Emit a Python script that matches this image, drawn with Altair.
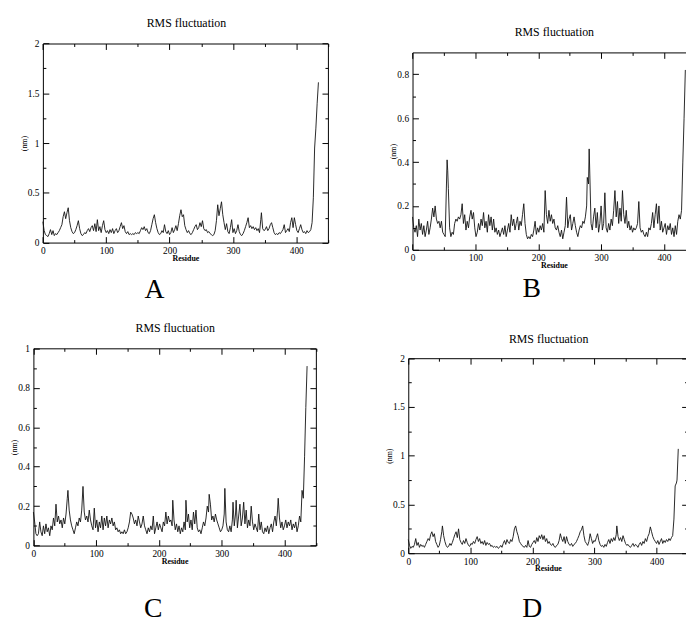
import altair as alt
import pandas as pd

TITLE = "RMS fluctuation"
X_TITLE = "Residue"
Y_TITLE = "(nm)"
FONT = "Liberation Serif"

# ---- data: (residue, RMSF in nm) ----
points_a = [
    (0, 0.21), (2, 0.12), (4, 0.08), (6, 0.07), (8, 0.06), (10, 0.09), (12, 0.13), (14, 0.08), (16, 0.12), (18, 0.07),
    (20, 0.09), (22, 0.08), (24, 0.10), (26, 0.12), (28, 0.15), (30, 0.18), (32, 0.26), (34, 0.31), (36, 0.24), (38, 0.30),
    (40, 0.35), (42, 0.22), (44, 0.15), (46, 0.11), (48, 0.09), (50, 0.10), (52, 0.13), (54, 0.17), (56, 0.22), (58, 0.14),
    (60, 0.09), (62, 0.07), (64, 0.08), (66, 0.10), (68, 0.09), (70, 0.12), (72, 0.14), (74, 0.11), (76, 0.15), (78, 0.17),
    (80, 0.12), (82, 0.19), (84, 0.11), (86, 0.23), (88, 0.12), (90, 0.16), (92, 0.10), (94, 0.17), (96, 0.22), (98, 0.13),
    (100, 0.10), (102, 0.12), (104, 0.09), (106, 0.13), (108, 0.10), (110, 0.14), (112, 0.09), (114, 0.12), (116, 0.14),
    (118, 0.10), (120, 0.12), (122, 0.16), (124, 0.20), (126, 0.14), (128, 0.17), (130, 0.11), (132, 0.09), (134, 0.11),
    (136, 0.08), (138, 0.09), (140, 0.08), (142, 0.09), (144, 0.08), (146, 0.10), (148, 0.09), (150, 0.10), (152, 0.09),
    (154, 0.12), (156, 0.15), (158, 0.13), (160, 0.16), (162, 0.12), (164, 0.14), (166, 0.10), (168, 0.09), (170, 0.12),
    (172, 0.18), (174, 0.24), (176, 0.28), (178, 0.20), (180, 0.14), (182, 0.10), (184, 0.08), (186, 0.09), (188, 0.12),
    (190, 0.10), (192, 0.18), (194, 0.11), (196, 0.09), (198, 0.12), (200, 0.08), (202, 0.10), (204, 0.15), (206, 0.10),
    (208, 0.13), (210, 0.17), (212, 0.12), (214, 0.19), (216, 0.27), (218, 0.33), (220, 0.26), (222, 0.28), (224, 0.17),
    (226, 0.13), (228, 0.10), (230, 0.12), (232, 0.09), (234, 0.08), (236, 0.10), (238, 0.13), (240, 0.16), (242, 0.18),
    (244, 0.13), (246, 0.15), (248, 0.20), (250, 0.16), (252, 0.22), (254, 0.14), (256, 0.12), (258, 0.13), (260, 0.10),
    (262, 0.11), (264, 0.09), (266, 0.08), (268, 0.07), (270, 0.08), (272, 0.12), (274, 0.22), (276, 0.38), (278, 0.27),
    (280, 0.34), (282, 0.41), (284, 0.28), (286, 0.20), (288, 0.13), (290, 0.19), (292, 0.11), (294, 0.09), (296, 0.15),
    (298, 0.23), (300, 0.10), (302, 0.14), (304, 0.09), (306, 0.12), (308, 0.18), (310, 0.11), (312, 0.08), (314, 0.07),
    (316, 0.09), (318, 0.12), (320, 0.16), (322, 0.20), (324, 0.25), (326, 0.15), (328, 0.17), (330, 0.14), (332, 0.16),
    (334, 0.13), (336, 0.15), (338, 0.12), (340, 0.14), (342, 0.10), (344, 0.23), (345, 0.30), (347, 0.14), (349, 0.12),
    (351, 0.13), (353, 0.16), (355, 0.12), (357, 0.14), (359, 0.18), (361, 0.20), (363, 0.15), (365, 0.10), (367, 0.08),
    (369, 0.09), (371, 0.08), (373, 0.10), (375, 0.09), (377, 0.11), (379, 0.13), (381, 0.18), (383, 0.10), (385, 0.12),
    (387, 0.14), (389, 0.11), (391, 0.20), (393, 0.25), (395, 0.15), (397, 0.25), (399, 0.18), (401, 0.12), (403, 0.10),
    (405, 0.14), (407, 0.18), (409, 0.13), (411, 0.10), (413, 0.11), (415, 0.09), (417, 0.12), (419, 0.10), (421, 0.11),
    (423, 0.13), (425, 0.20), (427, 0.45), (429, 0.95), (431, 1.15), (433, 1.40), (435, 1.61),
]

points_b = [
    (0, 0.15), (2, 0.10), (4, 0.08), (6, 0.11), (8, 0.06), (10, 0.14), (12, 0.09), (14, 0.12), (16, 0.07), (18, 0.11),
    (20, 0.06), (22, 0.09), (24, 0.13), (26, 0.07), (28, 0.10), (30, 0.14), (32, 0.19), (34, 0.15), (36, 0.20), (38, 0.14),
    (40, 0.12), (42, 0.13), (44, 0.10), (46, 0.13), (48, 0.08), (50, 0.07), (52, 0.06), (54, 0.30), (55, 0.41), (56, 0.36),
    (57, 0.28), (59, 0.10), (61, 0.06), (63, 0.08), (65, 0.07), (67, 0.12), (69, 0.14), (71, 0.13), (73, 0.15), (75, 0.14),
    (77, 0.16), (79, 0.21), (81, 0.12), (83, 0.16), (85, 0.09), (87, 0.13), (89, 0.10), (91, 0.15), (93, 0.18), (95, 0.14),
    (97, 0.17), (99, 0.10), (101, 0.06), (103, 0.08), (105, 0.12), (107, 0.09), (109, 0.14), (111, 0.11), (113, 0.17),
    (115, 0.10), (117, 0.13), (119, 0.08), (121, 0.16), (123, 0.11), (125, 0.15), (127, 0.09), (129, 0.14), (131, 0.08),
    (133, 0.10), (135, 0.07), (137, 0.09), (139, 0.06), (141, 0.08), (143, 0.10), (145, 0.07), (147, 0.11), (149, 0.06),
    (151, 0.09), (153, 0.12), (155, 0.08), (157, 0.16), (159, 0.11), (161, 0.14), (163, 0.09), (165, 0.12), (167, 0.15),
    (169, 0.09), (171, 0.13), (173, 0.11), (175, 0.16), (177, 0.21), (179, 0.12), (181, 0.07), (183, 0.05), (185, 0.06),
    (187, 0.05), (189, 0.07), (191, 0.06), (193, 0.09), (195, 0.13), (197, 0.07), (199, 0.10), (201, 0.08), (203, 0.11),
    (205, 0.09), (207, 0.12), (209, 0.08), (211, 0.27), (213, 0.16), (215, 0.12), (217, 0.18), (219, 0.13), (221, 0.16),
    (223, 0.12), (225, 0.14), (227, 0.10), (229, 0.09), (231, 0.11), (233, 0.08), (235, 0.06), (237, 0.09), (239, 0.05),
    (241, 0.08), (243, 0.11), (245, 0.24), (247, 0.10), (249, 0.14), (251, 0.16), (253, 0.09), (255, 0.12), (257, 0.15),
    (259, 0.11), (261, 0.08), (263, 0.06), (265, 0.09), (267, 0.11), (269, 0.10), (271, 0.13), (273, 0.12), (275, 0.15),
    (277, 0.20), (278, 0.33), (280, 0.30), (281, 0.46), (282, 0.35), (284, 0.12), (286, 0.09), (288, 0.15), (290, 0.19),
    (292, 0.10), (294, 0.17), (296, 0.08), (298, 0.12), (300, 0.20), (302, 0.09), (304, 0.12), (306, 0.26), (308, 0.10),
    (310, 0.08), (312, 0.12), (314, 0.09), (316, 0.14), (318, 0.11), (320, 0.18), (322, 0.27), (324, 0.15), (326, 0.22),
    (328, 0.12), (330, 0.19), (332, 0.13), (334, 0.27), (336, 0.16), (338, 0.12), (340, 0.18), (342, 0.10), (344, 0.13),
    (346, 0.09), (348, 0.11), (350, 0.08), (352, 0.10), (354, 0.09), (356, 0.10), (358, 0.12), (360, 0.22), (362, 0.10),
    (364, 0.08), (366, 0.09), (368, 0.07), (370, 0.06), (372, 0.08), (374, 0.06), (376, 0.10), (378, 0.09), (380, 0.12),
    (382, 0.17), (384, 0.10), (386, 0.16), (388, 0.21), (390, 0.12), (392, 0.20), (394, 0.09), (396, 0.13), (398, 0.08),
    (400, 0.10), (402, 0.12), (404, 0.07), (406, 0.11), (408, 0.09), (410, 0.12), (412, 0.07), (414, 0.10), (416, 0.06),
    (418, 0.11), (420, 0.07), (422, 0.13), (424, 0.16), (426, 0.14), (428, 0.18), (430, 0.40), (432, 0.60), (434, 0.82),
]

points_c = [
    (0, 0.17), (2, 0.12), (4, 0.06), (6, 0.05), (8, 0.06), (10, 0.12), (12, 0.07), (14, 0.05), (16, 0.10), (18, 0.06),
    (20, 0.11), (22, 0.07), (24, 0.09), (26, 0.05), (28, 0.10), (30, 0.08), (32, 0.14), (34, 0.10), (36, 0.21), (38, 0.12),
    (40, 0.15), (42, 0.11), (44, 0.13), (46, 0.09), (48, 0.14), (50, 0.11), (52, 0.16), (54, 0.24), (55, 0.28), (57, 0.18),
    (59, 0.13), (61, 0.10), (63, 0.08), (65, 0.06), (67, 0.09), (69, 0.12), (71, 0.10), (73, 0.14), (75, 0.12), (77, 0.18),
    (79, 0.30), (81, 0.17), (83, 0.13), (85, 0.15), (87, 0.12), (89, 0.18), (91, 0.13), (93, 0.10), (95, 0.08), (97, 0.19),
    (99, 0.09), (101, 0.13), (103, 0.07), (105, 0.12), (107, 0.09), (109, 0.15), (111, 0.08), (113, 0.14), (115, 0.10),
    (117, 0.15), (119, 0.09), (121, 0.13), (123, 0.11), (125, 0.14), (127, 0.10), (129, 0.12), (131, 0.08), (133, 0.09),
    (135, 0.07), (137, 0.08), (139, 0.06), (141, 0.07), (143, 0.06), (145, 0.08), (147, 0.06), (149, 0.07), (151, 0.09),
    (153, 0.12), (155, 0.17), (157, 0.16), (159, 0.14), (161, 0.11), (163, 0.13), (165, 0.10), (167, 0.15), (169, 0.12),
    (171, 0.09), (173, 0.11), (175, 0.15), (177, 0.10), (179, 0.08), (181, 0.06), (183, 0.09), (185, 0.07), (187, 0.10),
    (189, 0.08), (191, 0.15), (193, 0.06), (195, 0.09), (197, 0.12), (199, 0.08), (201, 0.11), (203, 0.09), (205, 0.07),
    (207, 0.12), (209, 0.10), (211, 0.17), (213, 0.11), (215, 0.15), (217, 0.12), (219, 0.13), (221, 0.10), (222, 0.23),
    (224, 0.13), (226, 0.08), (228, 0.11), (230, 0.07), (232, 0.10), (234, 0.06), (236, 0.09), (238, 0.07), (240, 0.12),
    (242, 0.08), (243, 0.23), (245, 0.12), (247, 0.16), (249, 0.09), (251, 0.13), (253, 0.08), (255, 0.17), (257, 0.11),
    (259, 0.18), (261, 0.09), (263, 0.07), (265, 0.08), (267, 0.06), (269, 0.09), (271, 0.12), (273, 0.10), (275, 0.14),
    (277, 0.20), (279, 0.17), (280, 0.26), (282, 0.21), (284, 0.13), (286, 0.15), (288, 0.12), (290, 0.16), (292, 0.13),
    (294, 0.11), (296, 0.09), (298, 0.07), (300, 0.08), (302, 0.10), (304, 0.16), (305, 0.29), (307, 0.12), (309, 0.08),
    (311, 0.07), (313, 0.10), (315, 0.07), (317, 0.13), (318, 0.22), (320, 0.10), (322, 0.16), (323, 0.23), (325, 0.09),
    (327, 0.15), (329, 0.21), (331, 0.10), (333, 0.14), (335, 0.22), (337, 0.11), (339, 0.18), (341, 0.09), (343, 0.13),
    (345, 0.10), (347, 0.20), (349, 0.12), (351, 0.08), (353, 0.11), (355, 0.09), (357, 0.07), (359, 0.16), (361, 0.08),
    (363, 0.12), (365, 0.07), (367, 0.06), (369, 0.09), (371, 0.07), (373, 0.10), (375, 0.06), (377, 0.09), (379, 0.11),
    (381, 0.07), (383, 0.12), (385, 0.15), (387, 0.10), (389, 0.18), (390, 0.24), (392, 0.14), (394, 0.09), (396, 0.12),
    (398, 0.08), (400, 0.10), (402, 0.13), (404, 0.09), (406, 0.12), (408, 0.10), (410, 0.13), (412, 0.08), (414, 0.11),
    (416, 0.09), (418, 0.12), (420, 0.07), (422, 0.10), (424, 0.15), (426, 0.12), (428, 0.28), (430, 0.24), (432, 0.45),
    (434, 0.70), (436, 0.91),
]

points_d = [
    (0, 0.14), (2, 0.08), (4, 0.05), (6, 0.07), (8, 0.06), (10, 0.09), (12, 0.15), (14, 0.08), (16, 0.11), (18, 0.06),
    (20, 0.09), (22, 0.07), (24, 0.08), (26, 0.06), (28, 0.09), (30, 0.12), (32, 0.15), (34, 0.13), (36, 0.19), (38, 0.22),
    (40, 0.17), (42, 0.20), (44, 0.12), (46, 0.09), (48, 0.06), (50, 0.08), (52, 0.14), (54, 0.22), (55, 0.28), (57, 0.18),
    (59, 0.12), (61, 0.08), (63, 0.06), (65, 0.07), (67, 0.10), (69, 0.08), (71, 0.11), (73, 0.15), (75, 0.19), (77, 0.22),
    (79, 0.16), (81, 0.25), (83, 0.14), (85, 0.11), (87, 0.09), (89, 0.13), (91, 0.10), (93, 0.15), (95, 0.11), (97, 0.08),
    (99, 0.07), (101, 0.10), (103, 0.09), (105, 0.12), (107, 0.10), (109, 0.14), (111, 0.17), (113, 0.12), (115, 0.15),
    (117, 0.10), (119, 0.12), (121, 0.09), (123, 0.13), (125, 0.08), (127, 0.11), (129, 0.09), (131, 0.10), (133, 0.07),
    (135, 0.08), (137, 0.06), (139, 0.07), (141, 0.06), (143, 0.07), (145, 0.05), (147, 0.06), (149, 0.08), (151, 0.06),
    (153, 0.10), (155, 0.13), (157, 0.09), (159, 0.14), (161, 0.11), (163, 0.10), (165, 0.14), (167, 0.12), (169, 0.17),
    (171, 0.25), (173, 0.28), (175, 0.22), (177, 0.18), (179, 0.12), (181, 0.10), (183, 0.08), (185, 0.07), (187, 0.06),
    (189, 0.08), (191, 0.06), (193, 0.13), (195, 0.07), (197, 0.06), (199, 0.09), (201, 0.11), (203, 0.13), (205, 0.10),
    (207, 0.16), (209, 0.12), (211, 0.18), (213, 0.15), (215, 0.19), (217, 0.14), (219, 0.18), (221, 0.12), (223, 0.15),
    (225, 0.10), (227, 0.12), (229, 0.09), (231, 0.08), (233, 0.10), (235, 0.07), (237, 0.06), (239, 0.08), (241, 0.09),
    (243, 0.13), (245, 0.20), (247, 0.15), (249, 0.12), (251, 0.17), (253, 0.10), (255, 0.17), (257, 0.12), (259, 0.09),
    (261, 0.08), (263, 0.10), (265, 0.07), (267, 0.09), (269, 0.10), (271, 0.12), (273, 0.15), (275, 0.18), (277, 0.22),
    (279, 0.24), (281, 0.28), (283, 0.18), (285, 0.12), (287, 0.10), (289, 0.08), (291, 0.12), (293, 0.20), (295, 0.15),
    (297, 0.10), (299, 0.13), (301, 0.12), (303, 0.16), (305, 0.20), (307, 0.13), (309, 0.09), (311, 0.07), (313, 0.08),
    (315, 0.06), (317, 0.09), (319, 0.07), (321, 0.11), (323, 0.14), (325, 0.10), (327, 0.15), (329, 0.12), (331, 0.16),
    (333, 0.13), (335, 0.19), (336, 0.28), (338, 0.17), (340, 0.13), (342, 0.16), (344, 0.12), (346, 0.18), (348, 0.14),
    (350, 0.10), (352, 0.08), (354, 0.09), (356, 0.07), (358, 0.06), (360, 0.08), (362, 0.10), (364, 0.07), (366, 0.09),
    (368, 0.08), (370, 0.06), (372, 0.09), (374, 0.11), (376, 0.08), (378, 0.12), (380, 0.10), (382, 0.15), (384, 0.12),
    (386, 0.17), (388, 0.20), (390, 0.27), (392, 0.22), (394, 0.17), (396, 0.14), (398, 0.12), (400, 0.10), (402, 0.13),
    (404, 0.09), (406, 0.12), (408, 0.15), (410, 0.10), (412, 0.13), (414, 0.11), (416, 0.14), (418, 0.12), (420, 0.15),
    (422, 0.13), (424, 0.16), (426, 0.18), (428, 0.35), (430, 0.69), (432, 0.72), (433, 0.75), (435, 1.07),
]

panel_letters = ["A", "B", "C", "D"]
x_major = [0, 100, 200, 300, 400]
x_minor = [50, 150, 250, 350, 450]
y_major_a = [0, 0.5, 1, 1.5, 2]
y_minor_a = [0.25, 0.75, 1.25, 1.75]
y_major_b = [0, 0.2, 0.4, 0.6, 0.8]
y_minor_b = [0.1, 0.3, 0.5, 0.7]
y_major_c = [0, 0.2, 0.4, 0.6, 0.8, 1]
y_minor_c = [0.1, 0.3, 0.5, 0.7, 0.9]

# ---- layout (pixels inside the drawing) ----
W_TOT, H_TOT = 686, 617
X_MAX = 450

panels = [
    dict(points=points_a, letter=panel_letters[0], ymax=2.0, ymaj=y_major_a, ymin=y_minor_a,
         x0=35.3, x1=323.7, yt=32.3, yb=233.7, tx=180.0, ty=15.0, lx=147.8, ly=55.3),
    dict(points=points_b, letter=panel_letters[1], ymax=0.9, ymaj=y_major_b, ymin=y_minor_b,
         x0=409.3, x1=695.5, yt=41.3, yb=241.0, tx=552.3, ty=24.0, lx=529.3, ly=47.7),
    dict(points=points_c, letter=panel_letters[2], ymax=1.0, ymaj=y_major_c, ymin=y_minor_c,
         x0=25.7, x1=311.5, yt=340.7, yb=540.3, tx=168.7, ty=323.7, lx=146.5, ly=71.7),
    dict(points=points_d, letter=panel_letters[3], ymax=2.0, ymaj=y_major_a, ymin=y_minor_a,
         x0=405.0, x1=687.6, yt=350.7, yb=548.0, tx=546.5, ty=335.3, lx=529.8, ly=64.0),
]

INK = "black"


def tick_axis(orient, offset, values, size, domain=False):
    return alt.Axis(orient=orient, offset=offset, values=values, labels=False, ticks=True,
                    tickSize=size, tickColor=INK, tickWidth=1, domain=domain, domainColor=INK,
                    domainWidth=1, grid=False, title=None)


def blank_axis(orient, offset, title, tx, ty, size, angle):
    return alt.Axis(orient=orient, offset=offset, labels=False, ticks=False, domain=False, grid=False,
                    title=title, titleX=tx, titleY=ty, titleFont=FONT, titleFontSize=size,
                    titleFontWeight="normal", titleColor=INK, titleAngle=angle, titleAlign="center",
                    titleBaseline="alphabetic")


layers = []
for p in panels:
    df = pd.DataFrame(p["points"], columns=["res", "rmsf"])
    sx = alt.Scale(domain=[0, X_MAX], range=[p["x0"], p["x1"]], nice=False, zero=False)
    sy = alt.Scale(domain=[0, p["ymax"]], range=[p["yb"], p["yt"]], nice=False, zero=False)
    base = alt.Chart(df)

    def enc(mark, ax, ay):
        return mark.encode(
            x=alt.X("res:Q", scale=sx, axis=ax),
            y=alt.Y("rmsf:Q", scale=sy, axis=ay),
        )

    x_lab = alt.Axis(orient="bottom", offset=p["yb"] - H_TOT, values=x_major, format="d",
                     labelFont=FONT, labelFontSize=9.5, labelColor=INK, labelPadding=3,
                     labelFlush=False, labelOverlap=False, ticks=False, tickSize=0,
                     domain=True, domainColor=INK, domainWidth=1, grid=False,
                     title=X_TITLE, titleFont=FONT, titleFontSize=8, titleFontWeight="bold",
                     titleColor=INK, titleX=(p["x0"] + p["x1"]) / 2, titleY=18,
                     titleBaseline="alphabetic", titleAlign="center")
    y_lab = alt.Axis(orient="left", offset=-p["x0"], values=p["ymaj"], format="~g",
                     labelFont=FONT, labelFontSize=9.5, labelColor=INK, labelPadding=4,
                     labelFlush=False, labelOverlap=False, ticks=False, tickSize=0,
                     domain=True, domainColor=INK, domainWidth=1, grid=False,
                     title=Y_TITLE, titleFont=FONT, titleFontSize=8, titleFontWeight="normal",
                     titleColor=INK, titleX=-19, titleY=(p["yt"] + p["yb"]) / 2,
                     titleBaseline="middle", titleAlign="center")

    line = base.mark_line(color="#111111", strokeWidth=0.9)
    ghost = base.mark_point(opacity=0)

    layers += [
        enc(line, x_lab, y_lab),
        enc(ghost, tick_axis("bottom", p["yt"] - H_TOT, x_major, 6, domain=True),
            tick_axis("left", -p["x1"], p["ymaj"], 6, domain=True)),
        enc(ghost, tick_axis("bottom", p["yt"] - H_TOT, x_minor, 3),
            tick_axis("left", -p["x1"], p["ymin"], 3)),
        enc(ghost, tick_axis("top", -p["yb"], x_major, 6),
            tick_axis("right", p["x0"] - W_TOT, p["ymaj"], 6)),
        enc(ghost, tick_axis("top", -p["yb"], x_minor, 3),
            tick_axis("right", p["x0"] - W_TOT, p["ymin"], 3)),
        enc(ghost, blank_axis("bottom", p["yb"] - H_TOT, p["letter"], p["lx"], p["ly"], 28, 0),
            blank_axis("left", -p["x0"], TITLE, p["tx"] - p["x0"], p["ty"], 12, 0)),
    ]

chart = (
    alt.layer(*layers)
    .resolve_scale(x="independent", y="independent")
    .resolve_axis(x="independent", y="independent")
    .properties(width=W_TOT, height=H_TOT, padding=0,
                autosize=alt.AutoSizeParams(type="none"), background="white")
    .configure_view(stroke=None)
)

chart.save("out.html", embed_options={"renderer": "svg", "actions": False})
